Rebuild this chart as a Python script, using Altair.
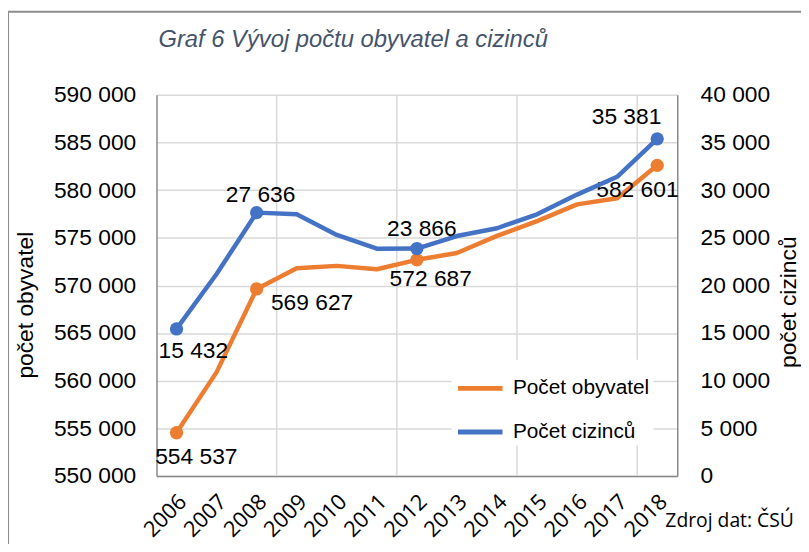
import altair as alt
import pandas as pd

# ---- data ----
years = list(range(2006, 2019))
obyvatel = [554537, 560900, 569627, 571800, 572050, 571700, 572687,
            573400, 575200, 576750, 578500, 579150, 582601]
cizinci = [15432, 21200, 27636, 27460, 25300, 23850, 23866,
           25180, 26000, 27460, 29530, 31400, 35381]
labeled_years = [2006, 2008, 2012, 2018]
series_names = ["Počet obyvatel", "Počet cizinců"]
left_ticks = list(range(550000, 590001, 5000))
right_ticks = list(range(0, 40001, 5000))
title_text = "Graf 6 Vývoj počtu obyvatel a cizinců"
source_text = "Zdroj dat: ČSÚ"
left_title = "počet obyvatel"
right_title = "počet cizinců"

# ---- styles ----
colors = ["#ED7D31", "#4472C4"]
FONT = "Liberation Sans"
GRID = "#D9D9D9"
AXISC = "#898989"


def fmt(v):
    return f"{v:,}".replace(",", " ")


df_ob = pd.DataFrame({"rok": years, "hodnota": obyvatel, "rada": series_names[0]})
df_ob["popisek"] = df_ob["hodnota"].map(fmt)
df_ci = pd.DataFrame({"rok": years, "hodnota": cizinci, "rada": series_names[1]})
df_ci["popisek"] = df_ci["hodnota"].map(fmt)
grid_df = pd.DataFrame({"hranice": [y + 0.5 for y in years[2::3]]})
dummy = pd.DataFrame({"d": [1]})

label_expr = "replace(format(datum.value, ','), ',', ' ')"

x_enc = alt.X(
    "rok:Q",
    scale=alt.Scale(domain=[years[0] - 0.5, years[-1] + 0.5], nice=False, zero=False),
    axis=alt.Axis(values=years, format="d", labelAngle=-45, labelAlign="right",
                  labelBaseline="middle", labelPadding=22, labelOffset=6,
                  labelFont="Open Sans", labelFontSize=22, labelColor="black",
                  labelOverlap=False, labelFlush=False, ticks=False, tickSize=0,
                  grid=False, domainColor=AXISC, domainWidth=1.5, title=None),
)
x_plain = alt.X("rok:Q")

legend = alt.Legend(title=None, orient="none", legendX=298, legendY=267.5,
                    direction="vertical", symbolType="stroke", symbolSize=2025,
                    symbolStrokeWidth=5, labelFontSize=21, labelFont=FONT,
                    labelColor="black", labelOffset=8, rowPadding=9, padding=4,
                    fillColor="white", labelLimit=300)
color_scale = alt.Scale(domain=series_names, range=colors)

y_left = alt.Y(
    "hodnota:Q",
    scale=alt.Scale(domain=[550000, 590000], nice=False, zero=False),
    axis=alt.Axis(orient="left", values=left_ticks, labelExpr=label_expr,
                  labelFontSize=23, labelColor="black", labelPadding=21,
                  labelOverlap=False, labelFlush=False,
                  ticks=False, tickSize=0, grid=True, gridColor=GRID, gridWidth=1.5,
                  domainColor=AXISC, domainWidth=1.5,
                  title=left_title, titleFontSize=23, titleFontWeight="normal",
                  titleColor="black", titleFont=FONT, titleAngle=-90,
                  titleBaseline="middle", titleAlign="center",
                  titleX=-132, titleY=212),
)
y_right = alt.Y(
    "hodnota:Q",
    scale=alt.Scale(domain=[0, 40000], nice=False, zero=False),
    axis=alt.Axis(orient="right", values=right_ticks, labelExpr=label_expr,
                  labelFontSize=23, labelColor="black", labelPadding=23,
                  labelOverlap=False, labelFlush=False,
                  ticks=False, tickSize=0, grid=False,
                  domainColor=AXISC, domainWidth=1.5,
                  title=right_title, titleFontSize=23, titleFontWeight="normal",
                  titleColor="black", titleFont=FONT, titleAngle=-90,
                  titleBaseline="middle", titleAlign="center",
                  titleX=112, titleY=209),
)

# label offsets (dx, dy) per labelled year
ob_offsets = {2006: (20, 25), 2008: (56, 14), 2012: (14, 19), 2018: (-20, 25)}
ci_offsets = {2006: (17, 22), 2008: (4, -18), 2012: (5, -20), 2018: (-31, -22)}

frame = alt.Chart(dummy).mark_rect(filled=False, color="#8C8C8C", strokeWidth=2).encode(
    x=alt.value(-150), x2=alt.value(700), y=alt.value(-84), y2=alt.value(520))

title_mark = alt.Chart(dummy).mark_text(
    text=title_text, align="left", baseline="middle", fontSize=24,
    fontStyle="italic", font=FONT, color="#44546A").encode(
    x=alt.value(2), y=alt.value(-55))

source_mark = alt.Chart(dummy).mark_text(
    text=source_text, align="left", baseline="alphabetic", fontSize=19.5,
    font="Open Sans", color="black").encode(
    x=alt.value(514), y=alt.value(437))

vgrid = alt.Chart(grid_df).mark_rule(color=GRID, strokeWidth=1.5).encode(
    x=alt.X("hranice:Q"))


def series_layers(df, y_enc, offsets):
    base = alt.Chart(df)
    line = base.mark_line(strokeWidth=4.5, strokeCap="round", strokeJoin="round").encode(
        x=x_enc, y=y_enc,
        color=alt.Color("rada:N", scale=color_scale, legend=legend))
    pts = base.mark_circle(size=180, opacity=1).encode(
        x=x_plain, y=y_enc,
        color=alt.Color("rada:N", scale=color_scale, legend=None)
    ).transform_filter(alt.FieldOneOfPredicate(field="rok", oneOf=labeled_years))
    texts = []
    for yr in labeled_years:
        dx, dy = offsets[yr]
        texts.append(
            base.mark_text(align="center", baseline="middle", fontSize=23, font=FONT,
                           color="black", dx=dx, dy=dy).encode(
                x=x_plain, y=y_enc, text="popisek:N"
            ).transform_filter(alt.datum.rok == yr)
        )
    return [line, pts] + texts


left = alt.layer(frame, vgrid, *series_layers(df_ob, y_left, ob_offsets),
                 title_mark, source_mark)
right = alt.layer(*series_layers(df_ci, y_right, ci_offsets))

chart = alt.layer(left, right).resolve_scale(y="independent").properties(
    width=526, height=385,
    padding={"left": 150, "top": 85, "right": 125, "bottom": 66},
    autosize=alt.AutoSizeParams(type="none"),
).configure(font=FONT).configure_view(strokeWidth=0)

chart.save("out.html", embed_options={"renderer": "svg", "actions": False})
